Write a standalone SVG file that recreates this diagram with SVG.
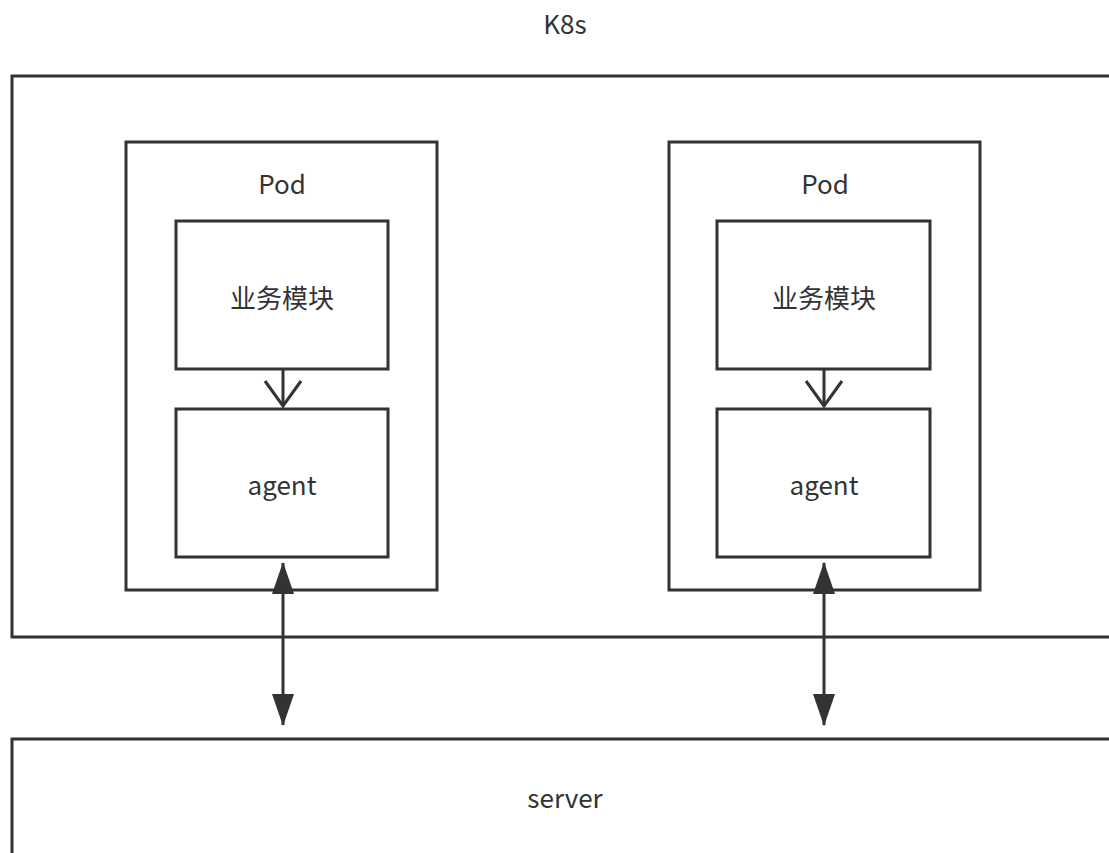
<svg xmlns="http://www.w3.org/2000/svg" width="1109" height="853" viewBox="0 0 1109 853">
<style>
.box{fill:#fff;stroke:#333;stroke-width:3}
.t{font-family:"Noto Sans CJK SC","Noto Sans",sans-serif;font-size:26px;fill:#333;text-anchor:middle;dominant-baseline:central}
.ln{stroke:#333;stroke-width:3;fill:none}
</style>
<defs>
<marker id="open" viewBox="0 0 28 40" refX="26" refY="20" markerWidth="28" markerHeight="40" markerUnits="userSpaceOnUse" orient="auto">
<path d="M1,2 L26,20 L1,38" fill="none" stroke="#333" stroke-width="3"/>
</marker>
<marker id="fill" viewBox="0 0 32 24" refX="31" refY="12" markerWidth="32" markerHeight="24" markerUnits="userSpaceOnUse" orient="auto-start-reverse">
<path d="M0,1 L32,12 L0,23 Z" fill="#333"/>
</marker>
</defs>
<rect width="1109" height="853" fill="#fff"/>
<text class="t" x="565" y="22">K8s</text>
<g id="k8s"><rect class="box" x="12" y="76" width="1110" height="561"/></g>
<g id="server"><rect class="box" x="12" y="739" width="1110" height="130"/><text class="t" x="565" y="796">server</text></g>
<g id="pod1"><rect class="box" x="126" y="142" width="311" height="448"/><text class="t" x="282" y="182">Pod</text></g>
<g id="pod2"><rect class="box" x="669" y="142" width="311" height="448"/><text class="t" x="825" y="182">Pod</text></g>
<g id="biz1"><rect class="box" x="176" y="221" width="212" height="148"/><text class="t" x="282" y="296">业务模块</text></g>
<g id="agent1"><rect class="box" x="176" y="409" width="212" height="148"/><text class="t" x="282" y="483">agent</text></g>
<g id="biz2"><rect class="box" x="717" y="221" width="213" height="148"/><text class="t" x="824" y="296">业务模块</text></g>
<g id="agent2"><rect class="box" x="717" y="409" width="213" height="148"/><text class="t" x="824" y="483">agent</text></g>
<g id="connectors">
<line class="ln" x1="283" y1="369" x2="283" y2="406" marker-end="url(#open)"/>
<line class="ln" x1="824" y1="369" x2="824" y2="406" marker-end="url(#open)"/>
<line class="ln" x1="283" y1="563" x2="283" y2="725" marker-start="url(#fill)" marker-end="url(#fill)"/>
<line class="ln" x1="824" y1="563" x2="824" y2="725" marker-start="url(#fill)" marker-end="url(#fill)"/>
</g>
</svg>
